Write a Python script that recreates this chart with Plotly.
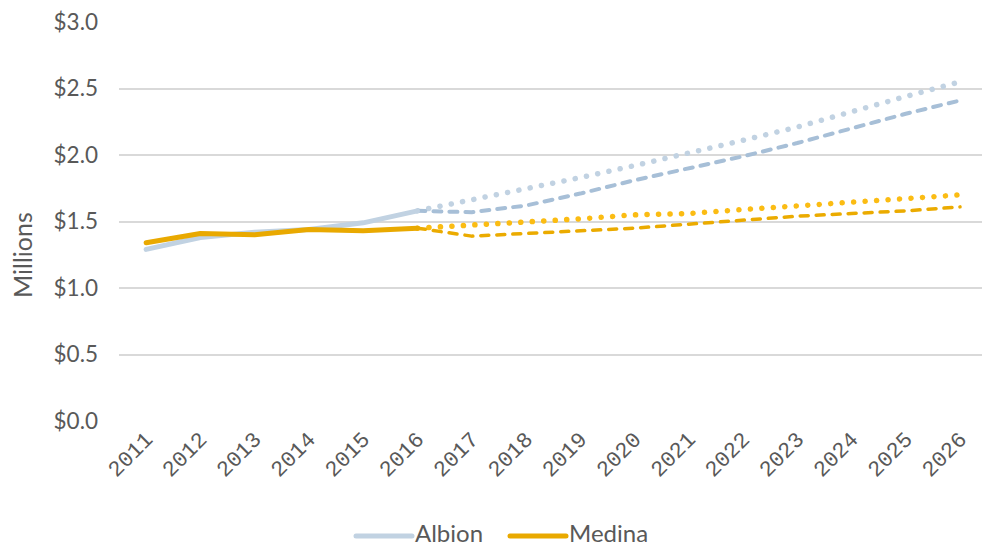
import plotly.graph_objects as go

# Historical values ($ millions)
hist_years = [2011, 2012, 2013, 2014, 2015, 2016]
albion_hist = [1.29, 1.38, 1.42, 1.44, 1.49, 1.58]
medina_hist = [1.34, 1.41, 1.40, 1.44, 1.43, 1.45]

# Projections (start at last actual year)
proj_years = [2016, 2017, 2018, 2019, 2020, 2021, 2022, 2023, 2024, 2025, 2026]
albion_high = [1.58, 1.66, 1.74, 1.83, 1.92, 2.01, 2.11, 2.21, 2.33, 2.44, 2.55]
albion_low = [1.58, 1.57, 1.62, 1.71, 1.81, 1.90, 1.99, 2.09, 2.20, 2.31, 2.41]
medina_high = [1.45, 1.47, 1.50, 1.52, 1.55, 1.56, 1.59, 1.62, 1.64, 1.67, 1.70]
medina_low = [1.45, 1.39, 1.41, 1.43, 1.45, 1.48, 1.51, 1.54, 1.56, 1.58, 1.61]

all_years = list(range(2011, 2027))
y_ticks = [0.0, 0.5, 1.0, 1.5, 2.0, 2.5, 3.0]
y_tick_text = ["$%.1f" % v for v in y_ticks]

ALBION = "#c1d2e2"
ALBION_DASH = "#a7bfd7"
MEDINA = "#e9a900"
MEDINA_DOT = "#fbbc13"
MEDINA_DASH = "#ebab00"
GREY = "#595959"
FONT = "Lato"

fig = go.Figure()
fig.add_trace(go.Scatter(x=proj_years, y=albion_high, mode="lines", showlegend=False,
                         line=dict(color=ALBION, width=5.5, dash="0.1px,11.4px")))
fig.add_trace(go.Scatter(x=proj_years, y=albion_low, mode="lines", showlegend=False,
                         line=dict(color=ALBION_DASH, width=4, dash="8px,8px")))
fig.add_trace(go.Scatter(x=proj_years, y=medina_high, mode="lines", showlegend=False,
                         line=dict(color=MEDINA_DOT, width=5.5, dash="0.1px,11.4px")))
fig.add_trace(go.Scatter(x=proj_years, y=medina_low, mode="lines", showlegend=False,
                         line=dict(color=MEDINA_DASH, width=3.5, dash="8px,8px")))
fig.add_trace(go.Scatter(x=hist_years, y=albion_hist, mode="lines", name="Albion",
                         line=dict(color=ALBION, width=5)))
fig.add_trace(go.Scatter(x=hist_years, y=medina_hist, mode="lines", name="Medina",
                         line=dict(color=MEDINA, width=5)))

fig.update_layout(
    width=982, height=549,
    margin=dict(l=119, r=0, t=22, b=128),
    paper_bgcolor="white", plot_bgcolor="white",
    showlegend=False,
    font=dict(family=FONT, color=GREY, size=22),
    xaxis=dict(
        range=[2010.5, 2026.405],
        tickmode="array", tickvals=all_years, ticktext=[str(y) for y in all_years],
        tickangle=-45, showgrid=False, zeroline=False, showline=False, ticks="",
        tickfont=dict(family="Liberation Mono", size=22, color=GREY),
    ),
    yaxis=dict(
        range=[0, 3.0], tickmode="array", tickvals=y_ticks, ticktext=y_tick_text,
        showgrid=True, gridcolor="#d9d9d9", gridwidth=1.5,
        zeroline=False, showline=False, ticks="", ticklabelstandoff=20,
        tickfont=dict(family=FONT, size=22.5, color=GREY),
    ),
)

# Axis title
fig.add_annotation(text="Millions", xref="paper", yref="paper", x=-0.1124, y=0.416,
                   xanchor="center", yanchor="middle", textangle=-90, showarrow=False,
                   font=dict(family=FONT, size=25, color=GREY))

# Legend drawn as line samples with labels, centred under the chart
legend_y = (421 - 536) / 399
legend_text_y = (421 - 548) / 399
legend_items = [("Albion", ALBION, 356), ("Medina", MEDINA, 510)]
for label, color, x0 in legend_items:
    fig.add_shape(type="line", xref="paper", yref="paper",
                  x0=(x0 - 119) / 863, x1=(x0 + 56 - 119) / 863,
                  y0=legend_y, y1=legend_y,
                  line=dict(color=color, width=5))
    fig.add_annotation(text=label, xref="paper", yref="paper",
                       x=(x0 + 58 - 119) / 863, y=legend_text_y,
                       xanchor="left", yanchor="bottom", showarrow=False, borderpad=0,
                       font=dict(family=FONT, size=24, color=GREY))

round_caps = ("var s=document.createElement('style');"
              "s.textContent='.js-line{stroke-linecap:round;stroke-linejoin:round;}"
              " .layer-above path{stroke-linecap:round;}';"
              "document.head.appendChild(s);")
fig.write_html("out.html", post_script=round_caps)
